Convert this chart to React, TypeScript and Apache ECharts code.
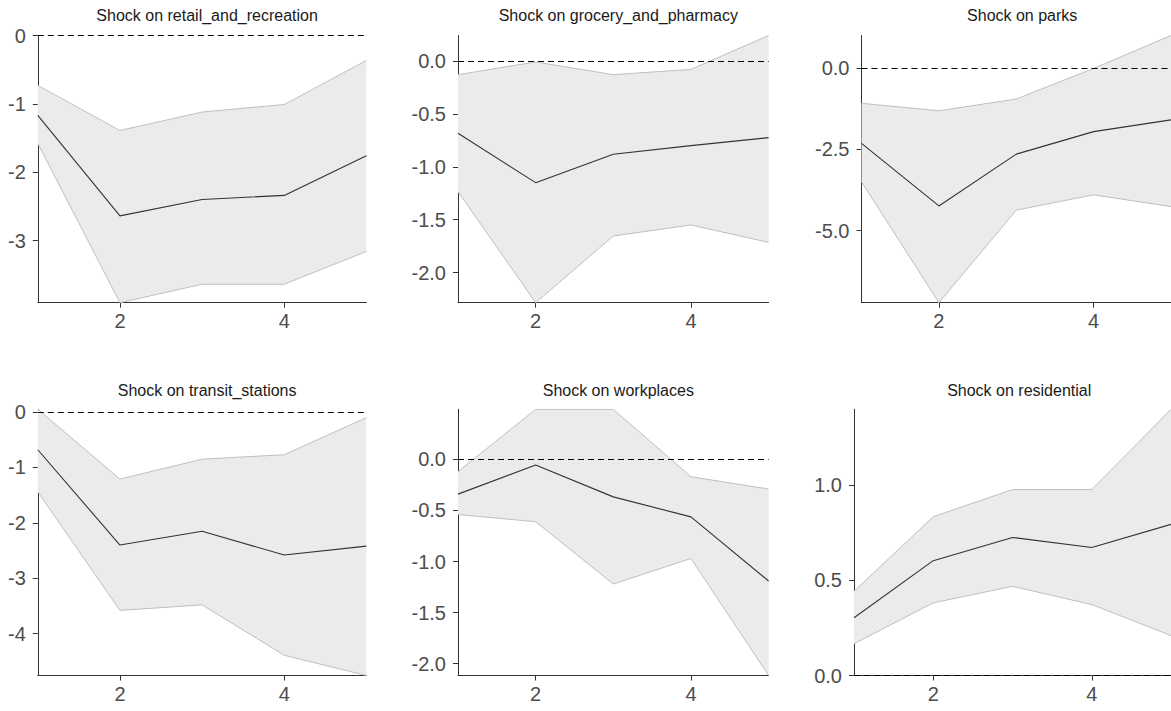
import React, { useEffect, useRef } from "react";
import * as echarts from "echarts";

const horizons = [1, 2, 3, 4, 5];
const xTicks = [2, 4];

const titles = [
  "Shock on retail_and_recreation",
  "Shock on grocery_and_pharmacy",
  "Shock on parks",
  "Shock on transit_stations",
  "Shock on workplaces",
  "Shock on residential",
];

const retailMid = [-1.17, -2.64, -2.4, -2.34, -1.76];
const retailUpper = [-0.73, -1.39, -1.12, -1.01, -0.365];
const retailLower = [-1.58, -3.91, -3.64, -3.64, -3.16];

const groceryMid = [-0.683, -1.15, -0.882, -0.8, -0.725];
const groceryUpper = [-0.13, -0.01, -0.13, -0.08, 0.24];
const groceryLower = [-1.235, -2.284, -1.654, -1.55, -1.714];

const parksMid = [-2.32, -4.24, -2.65, -1.96, -1.6];
const parksUpper = [-1.09, -1.32, -0.96, -0.02, 0.99];
const parksLower = [-3.5, -7.21, -4.37, -3.9, -4.26];

const transitMid = [-0.68, -2.4, -2.15, -2.58, -2.42];
const transitUpper = [0.05, -1.21, -0.85, -0.77, -0.1];
const transitLower = [-1.44, -3.58, -3.48, -4.39, -4.755];

const workMid = [-0.34, -0.056, -0.367, -0.563, -1.19];
const workUpper = [-0.12, 0.49, 0.49, -0.17, -0.29];
const workLower = [-0.54, -0.61, -1.22, -0.97, -2.115];

const resMid = [0.304, 0.604, 0.726, 0.673, 0.795];
const resUpper = [0.443, 0.835, 0.978, 0.978, 1.4];
const resLower = [0.167, 0.382, 0.469, 0.373, 0.21];

const yTicks = [
  [0, -1, -2, -3],
  [0, -0.5, -1, -1.5, -2],
  [0, -2.5, -5],
  [0, -1, -2, -3, -4],
  [0, -0.5, -1, -1.5, -2],
  [0, 0.5, 1],
];
const yDecimals = [0, 1, 1, 0, 1, 1];

const mids = [retailMid, groceryMid, parksMid, transitMid, workMid, resMid];
const uppers = [retailUpper, groceryUpper, parksUpper, transitUpper, workUpper, resUpper];
const lowers = [retailLower, groceryLower, parksLower, transitLower, workLower, resLower];

// layout (pixels)
const gridLefts = [37.8, 458, 861.5, 37.8, 458, 854];
const gridWidths = [328.6, 310.6, 311.4, 328.6, 310.6, 320.4];
const rowTops = [35.5, 409.3];
const rowHeights = [267.2, 266.2];
const titleTops = [2, 377];

const FONT = "'Liberation Sans', Arial, sans-serif";

export default function App() {
  const ref = useRef<HTMLDivElement>(null);
  useEffect(() => {
    if (!ref.current) return;
    const chart = echarts.init(ref.current, null, { renderer: "svg" });
    const grids: any[] = [];
    const xAxes: any[] = [];
    const yAxes: any[] = [];
    const series: any[] = [];
    const title: any[] = [];
    const axisColor = "#333333";
    for (let i = 0; i < 6; i++) {
      const row = i < 3 ? 0 : 1;
      grids.push({
        left: gridLefts[i],
        top: rowTops[row],
        width: gridWidths[i],
        height: rowHeights[row],
        containLabel: false,
      });
      title.push({
        text: titles[i],
        left: gridLefts[i] + gridWidths[i] / 2,
        top: titleTops[row],
        textAlign: "center",
        textStyle: { fontSize: 16, fontWeight: "normal", color: "#1a1a1a", fontFamily: FONT },
      });
      const lo = lowers[i];
      const up = uppers[i];
      const mid = mids[i];
      const ymin = Math.min(0, ...lo);
      const ymax = Math.max(0, ...up);
      const dec = yDecimals[i];
      xAxes.push({
        gridIndex: i,
        type: "value",
        min: 1,
        max: 5,
        axisLine: { show: true, onZero: false, lineStyle: { color: axisColor, width: 1 } },
        axisTick: { show: true, customValues: xTicks, length: 5, lineStyle: { color: axisColor } },
        axisLabel: {
          customValues: xTicks,
          fontSize: 20,
          color: "#4d4d4d",
          fontFamily: FONT,
          margin: 8,
        },
        splitLine: { show: false },
      });
      yAxes.push({
        gridIndex: i,
        type: "value",
        min: ymin,
        max: ymax,
        axisLine: { show: true, onZero: false, lineStyle: { color: axisColor, width: 1 } },
        axisTick: { show: true, customValues: yTicks[i], length: 5, lineStyle: { color: axisColor } },
        axisLabel: {
          customValues: yTicks[i],
          fontSize: 20,
          color: "#4d4d4d",
          fontFamily: FONT,
          margin: 12,
          formatter: (v: number) => (Math.abs(v) < 1e-9 ? (0).toFixed(dec) : v.toFixed(dec)),
        },
        splitLine: { show: false },
      });
      const pts = (arr: number[]) => horizons.map((h, j) => [h, arr[j]]);
      const n = horizons.length;
      series.push({
        type: "custom",
        xAxisIndex: i,
        yAxisIndex: i,
        clip: true,
        silent: true,
        data: horizons.map((h, j) => [h, lo[j], up[j]]),
        renderItem: (params: any, api: any) => {
          if (params.dataIndex !== 0) return null;
          const top: number[][] = [];
          const bottom: number[][] = [];
          for (let k = 0; k < n; k++) {
            const x = api.value(0, k);
            bottom.push(api.coord([x, api.value(1, k)]));
            top.push(api.coord([x, api.value(2, k)]));
          }
          const points = top.concat(bottom.slice().reverse());
          return {
            type: "polygon",
            shape: { points },
            style: { fill: "#ebebeb", stroke: "none" },
          };
        },
        z: 1,
      });
      series.push({
        type: "line",
        xAxisIndex: i,
        yAxisIndex: i,
        data: pts(up),
        symbol: "none",
        lineStyle: { color: "#bfbfbf", width: 1 },
        silent: true,
        z: 2,
      });
      series.push({
        type: "line",
        xAxisIndex: i,
        yAxisIndex: i,
        data: pts(lo),
        symbol: "none",
        lineStyle: { color: "#bfbfbf", width: 1 },
        silent: true,
        z: 2,
      });
      series.push({
        type: "line",
        xAxisIndex: i,
        yAxisIndex: i,
        data: pts(mid),
        symbol: "none",
        lineStyle: { color: "#333333", width: 1.1 },
        silent: true,
        z: 3,
        markLine: {
          silent: true,
          symbol: ["none", "none"],
          label: { show: false },
          lineStyle: { color: "#000000", width: 1.2, type: [6, 4] },
          data: [{ yAxis: 0 }],
        },
      });
    }
    chart.setOption({
      animation: false,
      backgroundColor: "#ffffff",
      title,
      grid: grids,
      xAxis: xAxes,
      yAxis: yAxes,
      series,
    });
    return () => chart.dispose();
  }, []);
  return (
    <div
      ref={ref}
      style={{ position: "fixed", left: 0, top: 0, width: 1171, height: 711, background: "#fff" }}
    />
  );
}
